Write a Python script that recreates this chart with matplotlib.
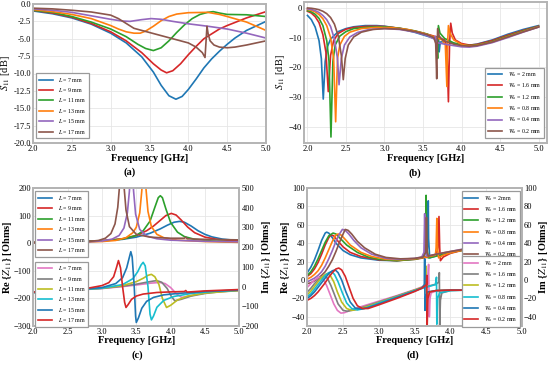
import matplotlib.pyplot as plt

plt.rcParams['font.family'] = ['Liberation Serif', 'DejaVu Serif']
plt.rcParams['mathtext.fontset'] = 'stix'
plt.rcParams['axes.edgecolor'] = '#b4b4b4'
plt.rcParams['axes.linewidth'] = 1.4

# ---------------- (a) S11 vs slot length L ----------------
a_labels = ['7', '9', '11', '13', '15', '17']
a_colors = ['tab:blue', 'tab:red', 'tab:green', 'tab:orange', 'tab:purple', 'tab:brown']

a_f_7 = [2.0, 2.25, 2.5, 2.75, 3.0, 3.2, 3.4, 3.55, 3.65, 3.75, 3.84, 3.92, 4.0, 4.1, 4.2, 4.3, 4.4, 4.5, 4.6, 4.75, 5.0]
a_s_7 = [-1.0, -1.4, -2.0, -2.9, -4.2, -5.6, -7.6, -9.8, -11.7, -13.2, -13.7, -13.3, -12.3, -10.8, -9.2, -7.9, -6.8, -5.8, -4.9, -3.8, -2.5]
a_f_9 = [2.0, 2.25, 2.5, 2.75, 3.0, 3.2, 3.4, 3.55, 3.65, 3.72, 3.8, 3.9, 4.0, 4.1, 4.2, 4.3, 4.4, 4.5, 4.75, 5.0]
a_s_9 = [-0.9, -1.3, -1.9, -2.8, -4.0, -5.3, -7.0, -8.6, -9.5, -9.9, -9.6, -8.6, -7.3, -6.1, -5.0, -4.3, -3.6, -3.1, -2.0, -1.1]
a_f_11 = [2.0, 2.25, 2.5, 2.75, 3.0, 3.2, 3.35, 3.45, 3.55, 3.65, 3.75, 3.85, 3.95, 4.05, 4.15, 4.25, 4.32, 4.4, 4.5, 4.75, 5.0]
a_s_11 = [-0.9, -1.2, -1.8, -2.6, -3.6, -4.7, -5.8, -6.4, -6.7, -6.3, -5.3, -4.1, -3.0, -2.1, -1.5, -1.2, -1.1, -1.3, -1.5, -1.55, -1.8]
a_f_13 = [2.0, 2.25, 2.5, 2.75, 2.9, 3.0, 3.1, 3.2, 3.3, 3.38, 3.45, 3.55, 3.65, 3.75, 3.85, 4.0, 4.25, 4.4, 4.5, 4.75, 5.0]
a_s_13 = [-0.8, -1.1, -1.5, -2.1, -2.7, -3.1, -3.6, -4.0, -4.2, -4.2, -3.9, -3.2, -2.4, -1.8, -1.45, -1.25, -1.2, -1.5, -1.8, -2.6, -3.8]
a_f_15 = [2.0, 2.25, 2.5, 2.75, 3.0, 3.15, 3.25, 3.4, 3.52, 3.65, 3.8, 4.0, 4.25, 4.5, 4.75, 5.0]
a_s_15 = [-0.7, -0.9, -1.2, -1.7, -2.2, -2.45, -2.5, -2.25, -2.1, -2.2, -2.5, -2.85, -3.2, -3.6, -4.2, -4.9]
a_f_17 = [2.0, 2.25, 2.5, 2.75, 3.0, 3.1, 3.2, 3.3, 3.4, 3.5, 3.6, 3.7, 3.8, 3.9, 4.0, 4.1, 4.18, 4.215,
          4.23, 4.24, 4.255, 4.28, 4.33, 4.4, 4.5, 4.6, 4.75, 5.0]
a_s_17 = [-0.6, -0.7, -0.9, -1.15, -1.6, -2.1, -2.8, -3.5, -3.8, -4.1, -4.4, -4.7, -5.0, -5.3, -5.6, -6.2, -7.0, -7.7,
          -5.0, -3.2, -4.3, -5.3, -5.9, -6.2, -6.3, -6.2, -5.9, -5.3]

# ---------------- (b) S11 vs feed width Wa ----------------
b_labels = ['2', '1.6', '1.2', '0.8', '0.4', '0.2']
b_colors = ['tab:blue', 'tab:red', 'tab:green', 'tab:orange', 'tab:purple', 'tab:brown']

b_f_20 = [2.0, 2.05, 2.1, 2.15, 2.18, 2.205, 2.23, 2.26, 2.3, 2.4, 2.5, 2.6, 2.75, 2.9, 3.0, 3.2, 3.4, 3.55, 3.65,
          3.68, 3.70, 3.71, 3.725, 3.8, 3.9, 4.0, 4.1, 4.2, 4.4, 4.6, 4.8, 5.0]
b_s_20 = [-2.6, -4.0, -6.5, -11.0, -17.0, -30.6, -18.0, -13.0, -10.5, -8.0, -7.0, -6.4, -6.0, -6.0, -6.2, -7.0, -8.3, -9.5, -10.3,
          -10.5, -8.5, -14.8, -11.5, -11.3, -12.0, -12.5, -12.6, -12.2, -10.8, -8.9, -7.3, -6.0]
b_f_16 = [2.0, 2.05, 2.1, 2.15, 2.2, 2.24, 2.27, 2.3, 2.34, 2.4, 2.5, 2.6, 2.8, 3.0, 3.2, 3.4, 3.6, 3.7, 3.78, 3.81,
          3.83, 3.845, 3.86, 3.88, 3.92, 4.0, 4.1, 4.2, 4.4, 4.6, 4.8, 5.0]
b_s_16 = [-1.2, -1.8, -3.0, -5.0, -9.0, -15.0, -28.1, -16.0, -11.0, -8.6, -7.2, -6.6, -6.2, -6.3, -6.9, -7.9, -9.2, -10.0, -10.8, -13.0,
          -31.5, -12.0, -5.2, -8.5, -10.8, -12.0, -12.5, -12.3, -11.0, -9.2, -7.6, -6.2]
b_f_12 = [2.0, 2.05, 2.1, 2.15, 2.2, 2.25, 2.28, 2.305, 2.33, 2.36, 2.42, 2.5, 2.6, 2.8, 3.0, 3.2, 3.4, 3.55, 3.65,
          3.68, 3.69, 3.70, 3.72, 3.78, 3.9, 4.0, 4.1, 4.2, 4.4, 4.6, 4.8, 5.0]
b_s_12 = [-1.0, -1.4, -2.2, -3.6, -6.0, -11.0, -18.0, -43.3, -18.0, -12.5, -9.5, -8.0, -7.0, -6.5, -6.4, -6.9, -7.8, -8.8, -10.0,
          -12.0, -17.0, -6.0, -8.5, -10.3, -11.8, -12.4, -12.7, -12.5, -11.3, -9.5, -7.8, -6.3]
b_f_08 = [2.0, 2.05, 2.1, 2.15, 2.2, 2.25, 2.3, 2.34, 2.366, 2.39, 2.42, 2.48, 2.55, 2.7, 2.9, 3.1, 3.3, 3.5, 3.65, 3.75,
          3.79, 3.81, 3.82, 3.83, 3.85, 3.9, 4.0, 4.1, 4.2, 4.4, 4.6, 4.8, 5.0]
b_s_08 = [-0.6, -0.9, -1.4, -2.3, -3.7, -6.0, -10.0, -17.0, -38.2, -17.0, -12.5, -9.6, -8.2, -7.0, -6.6, -6.7, -7.3, -8.5, -9.8, -10.8,
          -12.5, -26.4, -12.0, -6.0, -8.5, -10.8, -12.3, -12.8, -12.6, -11.5, -9.7, -8.0, -6.4]
b_f_04 = [2.0, 2.05, 2.1, 2.15, 2.2, 2.25, 2.3, 2.35, 2.39, 2.41, 2.44, 2.48, 2.55, 2.65, 2.8, 3.0, 3.2, 3.4, 3.55, 3.64,
          3.66, 3.675, 3.7, 3.8, 3.9, 4.0, 4.1, 4.2, 4.4, 4.6, 4.8, 5.0]
b_s_04 = [-0.4, -0.6, -1.0, -1.6, -2.6, -4.0, -6.3, -10.5, -17.0, -25.8, -17.0, -12.5, -9.8, -8.3, -7.3, -7.0, -7.3, -8.2, -9.3, -10.4,
          -9.6, -11.5, -11.8, -12.3, -12.7, -13.1, -13.2, -12.9, -11.7, -10.0, -8.2, -6.5]
b_f_02 = [2.0, 2.05, 2.1, 2.15, 2.2, 2.25, 2.3, 2.35, 2.4, 2.44, 2.465, 2.49, 2.53, 2.6, 2.7, 2.85, 3.0, 3.2, 3.4, 3.55,
          3.64, 3.665, 3.678, 3.685, 3.69, 3.71, 3.76, 3.9, 4.0, 4.1, 4.2, 4.4, 4.6, 4.8, 5.0]
b_s_02 = [-0.1, -0.2, -0.4, -0.7, -1.2, -2.0, -3.3, -5.5, -9.5, -16.0, -24.1, -17.0, -12.5, -9.8, -8.2, -7.3, -7.0, -7.2, -8.0, -9.0,
          -10.0, -12.0, -23.8, -12.0, -7.0, -9.5, -11.0, -12.2, -12.7, -12.9, -12.7, -11.5, -9.8, -8.1, -6.5]

# ---------------- (c) Z11 vs L ----------------
c_re_colors = ['tab:blue', 'tab:red', 'tab:green', 'tab:orange', 'tab:purple', 'tab:brown']
c_im_colors = ['tab:pink', 'tab:gray', 'tab:olive', 'tab:cyan', 'tab:blue', 'tab:red']

c_fr_7 = [2.0, 2.5, 3.0, 3.3, 3.5, 3.7, 3.85, 3.95, 4.05, 4.13, 4.2, 4.3, 4.4, 4.5, 4.6, 4.75, 5.0]
c_re_7 = [3, 5, 9, 14, 22, 36, 52, 65, 76, 79, 76, 62, 45, 32, 23, 15, 9]
c_fr_9 = [2.0, 2.5, 3.0, 3.3, 3.5, 3.65, 3.75, 3.85, 3.93, 4.01, 4.08, 4.15, 4.25, 4.35, 4.5, 4.7, 5.0]
c_re_9 = [3, 5, 9, 16, 28, 45, 62, 83, 100, 108, 102, 85, 58, 38, 22, 13, 8]
c_fr_11 = [2.0, 2.5, 3.0, 3.3, 3.5, 3.6, 3.7, 3.77, 3.82, 3.85, 3.88, 3.93, 4.0, 4.1, 4.2, 4.35, 4.6, 5.0]
c_re_11 = [2, 4, 8, 15, 28, 45, 80, 130, 165, 172, 165, 125, 75, 40, 24, 14, 8, 4]
c_fr_13 = [2.0, 2.5, 3.0, 3.2, 3.35, 3.45, 3.5, 3.55, 3.58, 3.61, 3.64, 3.67, 3.72, 3.8, 3.9, 4.1, 4.5, 5.0]
c_re_13 = [2, 3, 6, 10, 20, 38, 58, 110, 190, 320, 200, 115, 60, 32, 20, 11, 6, 3]
c_fr_15 = [2.0, 2.5, 2.8, 3.0, 3.15, 3.25, 3.32, 3.37, 3.40, 3.43, 3.46, 3.49, 3.55, 3.65, 3.8, 4.0, 4.5, 5.0]
c_re_15 = [2, 3, 5, 8, 15, 28, 55, 110, 190, 330, 190, 105, 50, 26, 16, 11, 7, 5]
c_fr_17 = [2.0, 2.5, 2.8, 2.95, 3.05, 3.13, 3.19, 3.23, 3.26, 3.29, 3.32, 3.35, 3.4, 3.5, 3.7, 4.0, 4.2, 4.22, 4.24, 4.5, 5.0]
c_re_17 = [2, 3, 6, 10, 18, 35, 70, 130, 220, 350, 210, 120, 60, 32, 22, 18, 18, 22, 16, 14, 12]

c_fi_7 = [2.0, 2.5, 3.0, 3.3, 3.5, 3.7, 3.84, 3.92, 4.0, 4.08, 4.16, 4.25, 4.4, 4.6, 5.0]
c_im_7 = [-30, -20, -10, 0, 8, 17, 21, 15, -5, -35, -55, -50, -38, -28, -20]
c_fi_9 = [2.0, 2.5, 3.0, 3.3, 3.5, 3.65, 3.75, 3.80, 3.87, 3.95, 4.01, 4.06, 4.15, 4.3, 4.5, 4.75, 5.0]
c_im_9 = [-30, -20, -9, 2, 12, 22, 28, 30, 22, -10, -50, -72, -65, -48, -35, -25, -20]
c_fi_11 = [2.0, 2.5, 3.0, 3.3, 3.5, 3.6, 3.67, 3.72, 3.77, 3.83, 3.88, 3.94, 4.0, 4.1, 4.25, 4.5, 5.0]
c_im_11 = [-30, -20, -8, 5, 25, 42, 57, 62, 50, 10, -60, -106, -95, -68, -48, -33, -20]
c_fi_13 = [2.0, 2.5, 3.0, 3.3, 3.45, 3.52, 3.57, 3.60, 3.63, 3.67, 3.70, 3.72, 3.75, 3.8, 3.9, 4.05, 4.3, 4.6, 5.0]
c_im_13 = [-30, -20, -8, 10, 40, 75, 110, 123, 105, 0, -140, -169, -150, -105, -70, -50, -35, -25, -18]
c_fi_15 = [2.0, 2.5, 3.0, 3.2, 3.3, 3.36, 3.4, 3.42, 3.44, 3.47, 3.49, 3.50, 3.53, 3.58, 3.65, 3.75, 3.9, 4.1, 4.5, 5.0]
c_im_15 = [-30, -20, -5, 15, 45, 95, 150, 177, 150, 0, -150, -182, -160, -110, -75, -55, -42, -35, -25, -18]
c_fi_17 = [2.0, 2.5, 2.8, 3.0, 3.1, 3.17, 3.21, 3.24, 3.27, 3.30, 3.33, 3.35, 3.38, 3.43, 3.5, 3.6, 3.8, 4.0, 4.2, 4.22, 4.24, 4.5, 5.0]
c_im_17 = [-28, -18, -8, 5, 20, 50, 95, 132, 95, 0, -80, -106, -92, -65, -48, -38, -30, -27, -25, -20, -28, -22, -15]

# ---------------- (d) Z11 vs Wa ----------------
d_re_colors = ['tab:blue', 'tab:red', 'tab:green', 'tab:orange', 'tab:purple', 'tab:brown']
d_im_colors = ['tab:pink', 'tab:gray', 'tab:olive', 'tab:cyan', 'tab:blue', 'tab:red']
d_re_labels = ['2mm', '1.6 mm', '1.2 mm', '0.8 mm', '0.4 mm', '0.2 mm']
d_im_labels = ['2 mm', '1.6 mm', '1.2 mm', '0.8 mm', '0.4 mm', '0.2 mm']

d_fr_20 = [2.0, 2.05, 2.1, 2.15, 2.2, 2.25, 2.27, 2.3, 2.35, 2.4, 2.5, 2.6, 2.75, 3.0, 3.25, 3.5, 3.6, 3.67,
           3.685, 3.69, 3.695, 3.71, 3.75, 3.85, 4.0, 4.2, 4.4, 4.6, 4.8, 5.0]
d_re_20 = [8, 14, 22, 32, 43, 51, 52, 51, 46, 40, 32, 27.5, 24, 21.5, 21, 23, 24.5, 26,
           45, 86, 45, 24, 25, 27, 30, 33, 33, 30, 26, 20]
d_fr_16 = [2.0, 2.05, 2.1, 2.15, 2.2, 2.25, 2.3, 2.33, 2.37, 2.42, 2.5, 2.6, 2.75, 3.0, 3.25, 3.5, 3.7, 3.8,
           3.825, 3.84, 3.85, 3.86, 3.9, 4.0, 4.2, 4.4, 4.6, 4.8, 5.0]
d_re_16 = [4, 7, 12, 19, 28, 38, 46, 49, 48, 43, 36, 30, 25.5, 22, 21, 22.5, 25, 27,
           35, 69, 35, 21, 25, 29, 33, 33.5, 30.5, 26, 20]
d_fr_12 = [2.0, 2.05, 2.1, 2.15, 2.2, 2.25, 2.3, 2.36, 2.4, 2.45, 2.55, 2.7, 2.85, 3.0, 3.25, 3.5, 3.62,
           3.65, 3.66, 3.67, 3.69, 3.75, 3.9, 4.1, 4.3, 4.5, 4.7, 5.0]
d_re_12 = [5, 9, 15, 23, 32, 41, 48, 51, 50, 46, 38, 30, 25, 22.5, 21, 22.5, 24.5,
           32, 92, 35, 24, 25, 28, 31.5, 33.5, 32.5, 28, 20]
d_fr_08 = [2.0, 2.05, 2.1, 2.15, 2.2, 2.25, 2.3, 2.35, 2.4, 2.43, 2.47, 2.52, 2.6, 2.75, 2.9, 3.1, 3.3, 3.5, 3.7, 3.79,
           3.80, 3.81, 3.82, 3.835, 3.9, 4.0, 4.2, 4.4, 4.6, 4.8, 5.0]
d_re_08 = [1, 3, 6, 10, 16, 24, 33, 42, 49, 50, 49, 45, 38, 30, 25.5, 22.5, 22, 23, 25.5, 27,
           35, 67, 35, 24, 27, 29.5, 33, 33.5, 30.5, 26, 20]
d_fr_04 = [2.0, 2.05, 2.1, 2.15, 2.2, 2.25, 2.3, 2.35, 2.4, 2.45, 2.49, 2.53, 2.58, 2.65, 2.75, 2.9, 3.1, 3.3, 3.5, 3.6,
           3.63, 3.64, 3.65, 3.67, 3.8, 4.0, 4.2, 4.4, 4.6, 4.8, 5.0]
d_re_04 = [-2, 0, 2, 5, 9, 15, 23, 32, 42, 50, 55, 54, 50, 43, 35, 28, 23.5, 22.5, 23.5, 25,
           30, 72, 30, 26, 28, 31, 34, 34, 31, 26.5, 20]
d_fr_02 = [2.0, 2.05, 2.1, 2.15, 2.2, 2.25, 2.3, 2.35, 2.4, 2.45, 2.5, 2.53, 2.57, 2.62, 2.7, 2.8, 2.95, 3.1, 3.3, 3.5, 3.62,
           3.655, 3.665, 3.675, 3.69, 3.8, 4.0, 4.2, 4.4, 4.6, 4.8, 5.0]
d_re_02 = [-4, -3, -1, 2, 5, 9, 15, 22, 31, 41, 50, 55, 54, 50, 42, 35, 28, 24.5, 23, 23.5, 25,
           30, 68, 30, 26, 28, 31, 33.5, 33.5, 30.5, 26, 20]

d_fi_20 = [2.0, 2.05, 2.1, 2.15, 2.18, 2.22, 2.27, 2.32, 2.37, 2.42, 2.47, 2.52, 2.6, 2.75, 3.0, 3.25, 3.5, 3.62,
           3.68, 3.695, 3.70, 3.705, 3.715, 3.73, 3.8, 4.0, 4.2, 4.4, 4.6, 4.8, 5.0]
d_im_20 = [-8, -4, 0, 2.5, 3, 1, -6, -16, -26, -33, -36, -35.5, -33, -29, -23, -17, -10.5, -7,
           -3, 17, -10, -40, -20, -14, -12, -11, -11, -12.5, -14.5, -17, -20]
d_fi_16 = [2.0, 2.05, 2.1, 2.15, 2.2, 2.24, 2.28, 2.33, 2.38, 2.43, 2.5, 2.56, 2.65, 2.8, 3.0, 3.25, 3.5, 3.7, 3.8,
           3.84, 3.845, 3.85, 3.86, 3.88, 4.0, 4.2, 4.4, 4.6, 4.8, 5.0]
d_im_16 = [-13, -9, -4, 0, 3, 4, 2, -6, -16, -26, -33, -34, -32.5, -29, -24, -17.5, -11, -6.5, -4.5,
           -2, 8, -50, -22, -14, -11.5, -11, -12.5, -14.5, -17, -20]
d_fi_12 = [2.0, 2.05, 2.1, 2.15, 2.2, 2.25, 2.28, 2.32, 2.37, 2.42, 2.48, 2.55, 2.62, 2.7, 2.85, 3.0, 3.25, 3.5, 3.62,
           3.655, 3.66, 3.665, 3.675, 3.7, 3.8, 4.0, 4.2, 4.4, 4.6, 4.8, 5.0]
d_im_12 = [-16, -12, -7, -2, 3, 6, 7, 5, -2, -13, -24, -31, -33, -32, -28.5, -24.5, -18, -11, -7.5,
           -4, 15, -30, -18, -13, -11.5, -11, -11, -12.5, -14.5, -17, -20]
d_fi_08 = [2.0, 2.05, 2.1, 2.15, 2.2, 2.25, 2.3, 2.34, 2.38, 2.43, 2.49, 2.55, 2.62, 2.7, 2.8, 3.0, 3.25, 3.5, 3.7, 3.79,
           3.805, 3.81, 3.82, 3.85, 4.0, 4.2, 4.4, 4.6, 4.8, 5.0]
d_im_08 = [-18, -15, -10, -5, 0, 5, 8, 9, 6, -2, -14, -25, -31, -32.5, -31, -25, -18.5, -11.5, -7, -5,
           3, -48, -20, -14, -11.5, -11, -12.5, -14.5, -17, -20]
d_fi_04 = [2.0, 2.05, 2.1, 2.15, 2.2, 2.25, 2.3, 2.35, 2.39, 2.43, 2.48, 2.54, 2.6, 2.67, 2.75, 2.85, 3.0, 3.25, 3.5, 3.6,
           3.635, 3.64, 3.645, 3.655, 3.68, 3.8, 4.0, 4.2, 4.4, 4.6, 4.8, 5.0]
d_im_04 = [-20, -17, -13, -8, -3, 2, 7, 10, 11, 8, 0, -13, -24, -30.5, -31.5, -30, -26, -19, -12, -8.5,
           -5, 23, -33, -18, -13, -11.5, -11, -11, -12.5, -14.5, -17, -20]
d_fi_02 = [2.0, 2.05, 2.1, 2.15, 2.2, 2.25, 2.3, 2.35, 2.4, 2.44, 2.48, 2.53, 2.58, 2.64, 2.7, 2.77, 2.85, 3.0, 3.25, 3.5, 3.6,
           3.665, 3.67, 3.675, 3.685, 3.71, 3.8, 4.0, 4.2, 4.4, 4.6, 4.8, 5.0]
d_im_02 = [-22, -20, -17, -13, -8, -3, 3, 8, 12, 13, 11, 4, -7, -20, -28, -31, -31, -27, -20, -12.5, -9,
           -5, 5, -50, -20, -13, -11.5, -11, -11, -12.5, -14.5, -17, -20]

LW = 1.2
TICK_FS = 6
LAB_FS = 7.5


def style(ax):
    ax.grid(True, color='#e6e6e6', linewidth=0.6)
    ax.set_axisbelow(True)
    ax.tick_params(labelsize=TICK_FS, length=0, pad=1.5)


def legend(ax, loc, **kw):
    lg = ax.legend(loc=loc, fontsize=4.2, frameon=True, fancybox=False, framealpha=1,
                   edgecolor='#9a9a9a', handlelength=2.4, labelspacing=0.42,
                   borderpad=0.45, handletextpad=1.0, borderaxespad=0.3, **kw)
    lg.get_frame().set_linewidth(0.9)
    return lg


fig = plt.figure(figsize=(5.5, 3.66), dpi=100)

# (a)
ax = fig.add_axes([33 / 550, 1 - 143 / 366, 233 / 550, 139 / 366])
style(ax)
a_f = [a_f_7, a_f_9, a_f_11, a_f_13, a_f_15, a_f_17]
a_s = [a_s_7, a_s_9, a_s_11, a_s_13, a_s_15, a_s_17]
for f, s, lab, c in zip(a_f, a_s, a_labels, a_colors):
    ax.plot(f, s, color=c, lw=LW, label=r'$L$ = %s mm' % lab)
ax.set_xlim(2, 5)
ax.set_ylim(-20, 0)
a_yt = [-20, -17.5, -15, -12.5, -10, -7.5, -5, -2.5, 0]
ax.set_yticks(a_yt)
ax.set_yticklabels(['%.1f' % v if v != 0 else '0.0' for v in a_yt])
ax.set_xticks([2, 2.5, 3, 3.5, 4, 4.5, 5])
ax.set_xticklabels(['2.0', '2.5', '3.0', '3.5', '4.0', '4.5', '5.0'])
ax.set_xlabel('Frequency [GHz]', fontsize=LAB_FS, fontweight='bold', labelpad=1)
ax.set_ylabel(r'$S_{11}$ [dB]', fontsize=LAB_FS, labelpad=1)
legend(ax, 'lower left', bbox_to_anchor=(0.005, 0.02))
fig.text(0.235, 1 - 172 / 366, '(a)', fontsize=7.5, fontweight='bold', ha='center', va='center')

# (b)
ax = fig.add_axes([304 / 550, 1 - 143 / 366, 243 / 550, 141 / 366])
style(ax)
b_f = [b_f_20, b_f_16, b_f_12, b_f_08, b_f_04, b_f_02]
b_s = [b_s_20, b_s_16, b_s_12, b_s_08, b_s_04, b_s_02]
for f, s, lab, c in zip(b_f, b_s, b_labels, b_colors):
    ax.plot(f, s, color=c, lw=LW, label=r'$W_a$ = %s mm' % lab)
ax.set_xlim(1.955, 5.11)
ax.set_ylim(-45.3, 1.9)
ax.set_yticks([-40, -30, -20, -10, 0])
ax.set_xticks([2, 2.5, 3, 3.5, 4, 4.5, 5])
ax.set_xticklabels(['2.0', '2.5', '3.0', '3.5', '4.0', '4.5', '5.0'])
ax.set_xlabel('Frequency [GHz]', fontsize=LAB_FS, fontweight='bold', labelpad=1)
ax.set_ylabel(r'$S_{11}$ [dB]', fontsize=LAB_FS, labelpad=1)
legend(ax, 'lower right', bbox_to_anchor=(0.995, 0.02))
fig.text(0.755, 1 - 173 / 366, '(b)', fontsize=7.5, fontweight='bold', ha='center', va='center')

# (c)
ax = fig.add_axes([33.3 / 550, 1 - 326 / 366, 206 / 550, 138 / 366])
style(ax)
ax2 = ax.twinx()
ax2.tick_params(labelsize=TICK_FS, length=0, pad=1.5)
c_fr = [c_fr_7, c_fr_9, c_fr_11, c_fr_13, c_fr_15, c_fr_17]
c_re = [c_re_7, c_re_9, c_re_11, c_re_13, c_re_15, c_re_17]
c_fi = [c_fi_7, c_fi_9, c_fi_11, c_fi_13, c_fi_15, c_fi_17]
c_im = [c_im_7, c_im_9, c_im_11, c_im_13, c_im_15, c_im_17]
for f, v, lab, c in zip(c_fr, c_re, a_labels, c_re_colors):
    ax.plot(f, v, color=c, lw=LW, label=r'$L$ = %s mm' % lab)
for f, v, lab, c in zip(c_fi, c_im, a_labels, c_im_colors):
    ax2.plot(f, v, color=c, lw=LW, label=r'$L$ = %s mm' % lab)
ax.set_xlim(2, 5)
ax.set_ylim(-300, 200)
ax2.set_ylim(-200, 500)
ax.set_xticks([2, 2.5, 3, 3.5, 4, 4.5, 5])
ax.set_xticklabels(['2.0', '2.5', '3.0', '3.5', '4.0', '4.5', '5.0'])
ax.set_xlabel('Frequency [GHz]', fontsize=LAB_FS, fontweight='bold', labelpad=0)
ax.set_ylabel(r'Re {$Z_{11}$} [Ohms]', fontsize=LAB_FS, fontweight='bold', labelpad=0)
ax2.set_ylabel(r'Im {$Z_{11}$} [Ohms]', fontsize=LAB_FS, fontweight='bold', labelpad=1)
legend(ax, 'upper left', bbox_to_anchor=(0.0, 0.99))
legend(ax2, 'lower left', bbox_to_anchor=(0.0, -0.02))
fig.text(0.25, 1 - 355 / 366, '(c)', fontsize=7.5, fontweight='bold', ha='center', va='center')

# (d)
ax = fig.add_axes([307.3 / 550, 1 - 326 / 366, 214.7 / 550, 138 / 366])
style(ax)
ax2 = ax.twinx()
ax2.tick_params(labelsize=TICK_FS, length=0, pad=1.5)
d_fr = [d_fr_20, d_fr_16, d_fr_12, d_fr_08, d_fr_04, d_fr_02]
d_re = [d_re_20, d_re_16, d_re_12, d_re_08, d_re_04, d_re_02]
d_fi = [d_fi_20, d_fi_16, d_fi_12, d_fi_08, d_fi_04, d_fi_02]
d_im = [d_im_20, d_im_16, d_im_12, d_im_08, d_im_04, d_im_02]
for f, v, lab, c in zip(d_fr, d_re, d_re_labels, d_re_colors):
    ax.plot(f, v, color=c, lw=LW, label=r'$W_a$ = %s' % lab)
for f, v, lab, c in zip(d_fi, d_im, d_im_labels, d_im_colors):
    ax2.plot(f, v, color=c, lw=LW, label=r'$W_a$ = %s' % lab)
ax.set_xlim(2, 5)
ax.set_ylim(-50, 100)
ax2.set_ylim(-50, 100)
ax.set_yticks([-40, -20, 0, 20, 40, 60, 80, 100])
ax2.set_yticks([-40, -20, 0, 20, 40, 60, 80, 100])
ax.set_xticks([2, 2.5, 3, 3.5, 4, 4.5, 5])
ax.set_xticklabels(['2.0', '2.5', '3.0', '3.5', '4.0', '4.5', '5.0'])
ax.set_xlabel('Frequency [GHz]', fontsize=LAB_FS, fontweight='bold', labelpad=0)
ax.set_ylabel(r'Re {$Z_{11}$} [Ohms]', fontsize=LAB_FS, fontweight='bold', labelpad=0)
ax2.set_ylabel(r'Im {$Z_{11}$} [Ohms]', fontsize=LAB_FS, fontweight='bold', labelpad=0)
legend(ax, 'upper right', bbox_to_anchor=(1.0, 0.99))
legend(ax2, 'lower right', bbox_to_anchor=(1.0, -0.02))
fig.text(0.75, 1 - 355 / 366, '(d)', fontsize=7.5, fontweight='bold', ha='center', va='center')

fig.savefig('out.png', dpi=100)
